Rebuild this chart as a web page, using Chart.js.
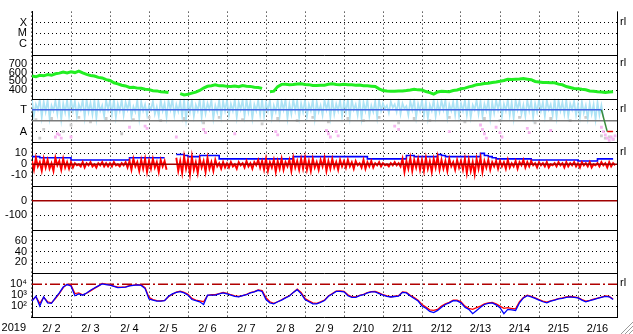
<!DOCTYPE html>
<html>
<head>
<meta charset="utf-8">
<script src="https://cdn.jsdelivr.net/npm/chart.js@4.4.1/dist/chart.umd.min.js"></script>
<style>
  html, body { margin: 0; padding: 0; background: #fff; }
  canvas { display: block; }
</style>
</head>
<body>
<canvas id="chart" width="633" height="334"></canvas>
<script>
// x runs in days from the left edge, one value every 0.1 day
const STEP = 0.1;
const yearLabel = '2019';
const dayLabels = ['2/ 2', '2/ 3', '2/ 4', '2/ 5', '2/ 6', '2/ 7', '2/ 8', '2/ 9',
  '2/10', '2/11', '2/12', '2/13', '2/14', '2/15', '2/16'];

// tick values / labels of each panel, top to bottom
const xmcTicks = [1, 2, 3];
const xmcLabels = ['C', 'M', 'X'];
const pressTicks = [400, 500, 600, 700];
const taTicks = [1, 3];
const taLabels = ['A', 'T'];
const fieldTicks = [-10, 0, 10];
const dstTicks = [-100, 0];
const aeTicks = [20, 40, 60];
const fluxTicks = [100, 1000, 10000];
const fluxLabels = ['10\u00b2', '10\u00b3', '10\u2074'];

// panel 2
const pressure = [
  561, 553, 570, 564, 578, 570, 587, 595, 607, 598,
  610, 601, 618, 597, 580, 568, 562, 546, 540, 520,
  510, 484, 472, 456, 448, 430, 432, 423, 421, 410,
  406, 393, 391, 380, 379, 372, null, null, 360, 345,
  352, 366, 377, 396, 424, 444, 451, 460, 449, 450,
  443, 441, 447, 439, 452, 445, 443, 434, 431, 420,
  null, 382, 388, 440, 466, 467, 463, 465, 471, 474,
  465, 463, 454, 453, 457, 457, 467, 474, 464, 463,
  467, 461, 461, 455, 459, 451, 449, 445, 441, 415,
  395, 389, 387, 387, 391, 391, 395, 401, 409, 403,
  401, 384, 371, 355, 379, 387, 385, 381, 396, 401,
  416, 423, 437, 447, 463, 467, 475, 479, 488, 493,
  501, 511, 525, 521, 526, 527, 532, 525, 519, 499,
  493, 487, 488, 485, 485, 469, 461, 441, 431, 419,
  417, 410, 405, 391, 387, 381, 379, 373, 379, 381
];

// panel 3
const cyanHi = [
  3.9, 3.5, 3.95, 3.75, 3.9, 3.4, 3.85, 3.95, 3.6, 3.9,
  3.95, 3.8, 3.5, 3.9, 3.95, 3.65, 3.9, 3.8, 3.4, 3.9,
  3.85, 3.95, 3.55, 3.9, 3.7, 3.9, 3.3, 3.9, 3.75, 3.5,
  3.4, 3.8, 3.3, 3.9, 3.6, 3.85, 3.95, 3.5, 3.8, 3.9,
  3.7, 3.9, 3.45, 3.95, 3.85, 3.6, 3.9, 3.4, 3.9, 3.8,
  3.9, 3.55, 3.95, 3.7, 3.9, 3.95, 3.75, 3.5, 3.9, 3.95,
  3.7, 3.9, 3.4, 3.9, 3.8, 3.95, 3.55, 3.95, 3.85, 3.6,
  3.9, 3.5, 3.9, 3.75, 3.4, 3.9, 3.8, 3.95, 3.55, 3.9,
  3.75, 3.9, 3.95, 3.5, 3.9, 3.7, 3.9, 3.4, 3.8, 3.9,
  3.6, 3.4, 3.75, 3.5, 3.9, 3.6, 3.35, 3.8, 3.9, 3.55,
  3.9, 3.7, 3.45, 3.9, 3.6, 3.85, 3.9, 3.5, 3.75, 3.9,
  3.6, 3.9, 3.75, 3.45, 3.9, 3.8, 3.55, 3.9, 3.7, 3.9,
  3.9, 3.55, 3.95, 3.7, 3.9, 3.85, 3.45, 3.9, 3.8, 3.6,
  3.9, 3.7, 3.9, 3.5, 3.95, 3.85, 3.7, 3.9, 3.55, 3.8,
  3.5, 3.75, 3.4, 3.6, 3.5, 3.7, 3.4, null, null, null
];
const cyanLo = [
  2.5, 3.0, 2.3, 2.8, 2.2, 2.9, 2.6, 2.1, 2.75, 2.45,
  2.9, 2.4, 3.0, 2.3, 2.8, 2.55, 2.2, 2.9, 2.4, 3.0,
  2.6, 2.3, 2.9, 2.5, 3.0, 2.35, 2.8, 2.2, 2.9, 2.5,
  3.0, 2.6, 2.4, 2.9, 2.3, 3.0, 2.5, 2.85, 2.4, 2.1,
  2.8, 2.4, 2.9, 2.3, 2.65, 3.0, 2.2, 2.75, 2.4, 2.9,
  2.5, 2.9, 2.3, 3.0, 2.4, 2.8, 2.2, 2.9, 2.55, 2.4,
  2.9, 2.3, 2.8, 2.4, 3.0, 2.2, 2.6, 2.9, 2.3, 2.8,
  2.4, 2.9, 2.2, 2.8, 2.5, 3.0, 2.3, 2.6, 2.9, 2.4,
  2.8, 2.3, 3.0, 2.5, 2.2, 2.9, 2.4, 2.8, 2.3, 2.9,
  3.1, 2.7, 3.2, 2.8, 2.6, 3.1, 2.5, 3.0, 2.3, 2.9,
  2.5, 2.2, 2.9, 2.4, 2.8, 3.0, 2.3, 2.9, 2.5, 2.4,
  2.9, 2.5, 2.3, 3.0, 2.6, 2.4, 2.9, 2.2, 2.7, 3.0,
  2.4, 2.9, 2.5, 2.2, 3.0, 2.6, 2.4, 2.9, 2.3, 2.8,
  2.9, 2.4, 3.0, 2.5, 2.3, 2.9, 2.6, 2.4, 3.0, 2.5,
  2.3, 2.7, 2.2, 2.6, 2.1, 2.5, 2.3, null, null, null
];
const grayDotX = [0.1, 0.2, 0.3, 0.5, 0.8, 1.0, 1.2, 1.5, 1.9, 2.3, 2.6, 3.0, 3.3, 3.9, 4.4, 4.8, 5.4, 5.9,
  6.3, 6.8, 7.2, 7.6, 8.1, 8.5, 8.9, 9.4, 9.8, 10.2, 10.7, 11.1, 11.6, 12.0, 12.5, 12.9, 13.3, 13.8,
  14.2, 14.6, 14.7, 14.8, 14.9];
const grayDotY = [2.1, 0.4, 1.2, 2.2, 1.0, 1.6, 2.3, 1.9, 2.2, 0.8, 2.1, 2.3, 2.0, 2.2, 1.8, 2.3, 2.1, 1.7,
  2.2, 2.0, 2.3, 1.9, 2.2, 2.0, 2.3, 1.8, 2.2, 2.0, 2.3, 1.9, 2.2, 2.0, 2.3, 1.8, 2.2, 2.0,
  2.3, 0.6, 0.4, 0.5, 0.3];
const pinkDotX = [0.6, 0.65, 0.7, 0.75, 1.0, 2.5, 2.9, 2.95, 3.7, 4.4, 4.45, 5.2, 6.25, 6.3, 7.55, 7.6, 7.65,
  7.8, 7.85, 9.3, 9.4, 10.7, 11.5, 11.55, 11.6, 11.65, 11.9, 12.0, 12.05, 12.7, 12.75, 13.3, 14.6,
  14.65, 14.7, 14.75, 14.8, 14.85, 14.9, 14.95];
const pinkDotY = [0.5, 0.8, 0.7, 0.4, 0.5, 1.4, 1.5, 1.3, 0.5, 1.2, 0.9, 0.8, 1.0, 0.7, 1.1, 0.8, 0.5,
  1.0, 0.6, 1.5, 1.2, 1.0, 1.6, 1.2, 0.8, 0.4, 1.4, 0.9, 0.5, 1.3, 0.9, 1.1, 1.4,
  1.0, 0.7, 0.4, 0.2, 0.5, 0.3, 0.6];
const trackX = [0, 14.6, 14.75, 14.9];
const trackY = [3, 3, 1, 1];
const trackColors = ['#4060e0', '#3a8a3a', '#e00000'];
const grayLevel = 2;

// panel 4: upper and lower swing of the red trace in each 0.1 day
const fieldRedHi = [
  3, 6, 2, 5, 4, 1, 6, 3, 5, 2,
  2, 1, 0, 2, 1, 2, 0, 1, 2, 1,
  1, 2, 0, 1, 2, 3, 5, 2, 4, 5,
  3, 5, 2, 4, 3, null, null, 6, 3, 7,
  4, 7, 2, 5, 3, 6, 2, 4, 1, 2,
  1, 2, 0, 2, 1, 3, 1, 2, 4, 3,
  5, 2, 4, 3, 5, 2, 4, 6, 3, 5,
  6, 3, 5, 2, 4, 6, 3, 5, 2, 4,
  3, 4, 2, 3, 1, 4, 2, 3, 1, 2,
  1, 0, 1, 2, 1, 5, 3, 6, 4, 5,
  4, 6, 3, 5, 7, 4, 3, 5, 2, 4,
  3, 5, 4, 2, 5, 6, 3, 4, 2, 3,
  3, 2, 4, 1, 3, 2, 4, 2, 3, 1,
  2, 1, 2, 0, 1, 2, 1, 2, 1, 2,
  1, 2, 1, 2, 0, 1, 2, 1, 2, 1
];
const fieldRedLo = [
  -5, -2, -6, -3, -4, -6, -1, -5, -3, -4,
  -3, -1, -2, -3, -1, -2, -3, -1, -2, -2,
  -2, -1, -2, -1, -3, -5, -2, -6, -4, -7,
  -4, -3, -7, -2, -5, null, null, -6, -8, -4,
  -9, -5, -8, -3, -7, -4, -6, -2, -4, -3,
  -3, -2, -4, -1, -3, -2, -4, -1, -3, -5,
  -6, -3, -7, -4, -5, -2, -6, -3, -5, -4,
  -5, -6, -3, -5, -2, -6, -4, -3, -5, -2,
  -3, -2, -4, -1, -3, -4, -2, -3, -1, -2,
  -1, -2, -1, -1, -2, -7, -4, -6, -3, -5,
  -6, -4, -7, -3, -5, -4, -6, -2, -5, -3,
  -5, -8, -6, -9, -4, -7, -3, -5, -2, -4,
  -2, -4, -3, -2, -4, -1, -3, -2, -1, -3,
  -1, -2, -3, -1, -2, -1, -3, -2, -1, -2,
  -3, -1, -2, -3, -1, -2, -1, -3, -2, -1
];
const fieldBlue = [
  7, 7, 6, 6, 6, 6, 6, 6, 6, 6,
  4, 4, 4, 4, 4, 4, 4, 4, 4, 4,
  4, 4, 4, 4, 4, 6, 6, 6, 6, 6,
  6, 6, 6, 6, 6, null, null, 9, 9, 8,
  7, 7, 7, 8, 8, 8, 8, 8, 5, 5,
  5, 5, 5, 5, 5, 5, 5, 5, 5, 5,
  5, 5, 5, 5, 5, 5, 5, 7, 7, 7,
  7, 7, 7, 7, 7, 7, 7, 7, 7, 7,
  7, 7, 7, 7, 7, 7, 5, 5, 5, 5,
  5, 5, 5, 5, 5, 5, 8, 8, 7, 7,
  7, 7, 7, 7, 9, 8, 7, 7, 7, 7,
  7, 7, 7, 7, 7, 10, 8, 7, 6, 5,
  5, 5, 5, 5, 5, 5, 5, 5, 4, 4,
  4, 4, 4, 4, 4, 4, 4, 4, 4, 4,
  3, 3, 3, 3, 3, 5, 5, 5, 5, 5
];
const zeroX = [0, 15];

// panel 7
const fluxLimit = 10000;
const fluxBlue = [
  290, 790, 100, 710, 200, 180, 560, 1600, 5600, 9500,
  7100, 890, 1300, 1000, 1600, 2800, 4500, 7100, 11000, 9500,
  8300, 6300, 5000, 5200, 5600, 7100, 7900, 8700, 7900, 4000,
  450, 350, 290, 290, 320, 790, 1300, 1800, 2100, 1600,
  1000, 400, 320, 250, 140, 1000, 1000, 1000, 1300, 1600,
  1300, 1000, 790, 710, 890, 1100, 1600, 2000, 2800, 2200,
  400, 200, 160, 250, 350, 560, 830, 1800, 3200, 1400,
  400, 250, 160, 160, 220, 320, 790, 1300, 2200, 2200,
  2000, 890, 630, 630, 890, 1100, 1600, 2000, 2000, 1400,
  1000, 790, 680, 760, 830, 1800, 1600, 830, 500, 290,
  100, 63, 32, 25, 40, 79, 140, 200, 320, 300,
  200, 79, 50, 20, 40, 79, 140, 180, 200, 130,
  71, 20, 50, 45, 40, 200, 560, 890, 710, 500,
  350, 250, 200, 280, 350, 450, 500, 630, 710, 630,
  560, 350, 250, 320, 400, 500, 630, 790, 710, 400
];
const fluxRed = [
  320, 700, 180, 630, 250, 200, 500, 1400, 5000, 10000,
  8300, 1400, 1600, 1100, 1500, 2500, 4200, 6800, 12000, 10000,
  8700, 6800, 5400, 5400, 5800, 7400, 8300, 9100, 8700, 5000,
  630, 400, 320, 300, 330, 710, 1200, 1900, 2300, 1800,
  1200, 500, 360, 300, 250, 900, 1100, 1100, 1400, 1800,
  1500, 1100, 850, 760, 900, 1200, 1700, 2100, 3000, 2600,
  600, 250, 180, 250, 380, 600, 890, 1800, 3600, 1800,
  500, 300, 200, 180, 250, 350, 850, 1400, 2400, 2500,
  2200, 1100, 700, 680, 950, 1200, 1700, 2100, 2200, 1600,
  1100, 850, 720, 800, 900, 2000, 1800, 1000, 600, 350,
  140, 80, 45, 40, 50, 100, 160, 220, 350, 350,
  250, 100, 63, 50, 71, 100, 160, 200, 220, 160,
  100, 63, 71, 60, 56, 250, 600, 1000, 800, 560,
  400, 280, 230, 300, 380, 480, 560, 700, 760, 680,
  600, 400, 280, 340, 430, 530, 680, 850, 760, 450
];

const FONT = '"Liberation Sans", Arial, sans-serif';
Chart.defaults.font.family = FONT;
Chart.defaults.font.size = 11;
Chart.defaults.color = '#000';

function series(values) {
  return values.map((v, i) => ({ x: +(i * STEP).toFixed(2), y: v }));
}
function pairs(xs, ys) {
  return xs.map((x, i) => ({ x: x, y: ys[i] }));
}
// interleave the two swings of a noisy trace: hi at the step, lo half a step later
function zigzag(hi, lo) {
  return hi.flatMap((h, i) => [
    { x: +(i * STEP).toFixed(2), y: h },
    { x: +(i * STEP + STEP / 2).toFixed(3), y: lo[i] }
  ]);
}

function yPanel(weight, min, max, ticks, labels, extra) {
  return Object.assign({
    type: 'linear',
    position: 'left',
    stack: 'panels',
    stackWeight: 1,
    weight: weight,
    min: min,
    max: max,
    afterBuildTicks: s => { s.ticks = ticks.map(v => ({ value: v })); },
    afterFit: s => { s.width = 32; },
    grid: { color: '#000', lineWidth: 1, drawTicks: false },
    border: { display: true, color: '#000', width: 1, dash: [1, 3] },
    ticks: {
      autoSkip: false,
      padding: 5,
      callback: (v, i) => labels ? labels[i] : String(v)
    }
  }, extra || {});
}

const lineBase = { pointRadius: 0, tension: 0, spanGaps: false, fill: false };

const frame = {
  id: 'frame',
  afterDraw(chart) {
    const { ctx, chartArea: a, scales } = chart;
    ctx.save();
    ctx.strokeStyle = '#000';
    ctx.lineWidth = 1;
    ctx.beginPath();
    ['yA', 'yB', 'yC', 'yD', 'yE', 'yF', 'yG'].forEach(id => {
      const s = scales[id];
      if (s.top > a.top + 1) {
        const y = Math.round(s.top) + 0.5;
        ctx.moveTo(a.left, y);
        ctx.lineTo(a.right, y);
      }
    });
    const xr = Math.round(a.right) + 0.5;
    ctx.moveTo(xr, a.top);
    ctx.lineTo(xr, a.bottom + 1);
    ctx.stroke();

    ctx.fillStyle = '#000';
    ctx.font = '11px ' + FONT;
    ctx.textAlign = 'left';
    ctx.textBaseline = 'middle';
    ['yA', 'yB', 'yC', 'yD', 'yG'].forEach(id => {
      const s = scales[id];
      const t = s.ticks[s.ticks.length - 1];
      ctx.fillText('rl', a.right + 3, s.getPixelForValue(t.value) - 1);
    });
    ctx.textAlign = 'right';
    ctx.textBaseline = 'top';
    ctx.fillText(yearLabel, a.left - 6, a.bottom + 5);

    // window resize grip
    ctx.strokeStyle = '#9a9a9a';
    ctx.beginPath();
    [4, 8, 12].forEach(k => {
      ctx.moveTo(633 - k, 334);
      ctx.lineTo(633, 334 - k);
    });
    ctx.stroke();
    ctx.restore();
  }
};

new Chart(document.getElementById('chart'), {
  type: 'line',
  data: {
    datasets: [
      // panel 2
      Object.assign({ data: series(pressure), yAxisID: 'yB', borderColor: '#22ee22', borderWidth: 3, order: 5 }, lineBase),
      // panel 3
      Object.assign({
        data: pairs(trackX, trackY), yAxisID: 'yC', borderWidth: 1.5, order: 1,
        segment: { borderColor: c => trackColors[c.p0DataIndex] }
      }, lineBase),
      Object.assign({ data: pairs(zeroX, [grayLevel, grayLevel]), yAxisID: 'yC', borderColor: '#7a7a7a', borderWidth: 1.5, order: 2 }, lineBase),
      Object.assign({ data: zigzag(cyanHi, cyanLo), yAxisID: 'yC', borderColor: '#ace3f5', borderWidth: 1.7, order: 4 }, lineBase),
      Object.assign({ data: pairs(grayDotX, grayDotY), yAxisID: 'yC', showLine: false, pointStyle: 'rect',
        pointBorderWidth: 0, pointBackgroundColor: '#cccccc', order: 6 }, lineBase, { pointRadius: 2 }),
      Object.assign({ data: pairs(pinkDotX, pinkDotY), yAxisID: 'yC', showLine: false, pointStyle: 'rect',
        pointBorderWidth: 0, pointBackgroundColor: '#f6b6f0', order: 5 }, lineBase, { pointRadius: 2 }),
      // panel 4
      Object.assign({ data: pairs(zeroX, [0, 0]), yAxisID: 'yD', borderColor: '#a00000', borderWidth: 1.5, order: 1 }, lineBase),
      Object.assign({ data: zigzag(fieldRedHi, fieldRedLo), yAxisID: 'yD', borderColor: '#ff0000', borderWidth: 1.9, order: 2 }, lineBase),
      Object.assign({ data: series(fieldBlue), yAxisID: 'yD', borderColor: '#0000ff', borderWidth: 1.6, stepped: true, order: 3 }, lineBase),
      // panel 5
      Object.assign({ data: pairs(zeroX, [0, 0]), yAxisID: 'yE', borderColor: '#a00000', borderWidth: 1.5, order: 1 }, lineBase),
      // panel 7
      Object.assign({ data: pairs(zeroX, [fluxLimit, fluxLimit]), yAxisID: 'yG', borderColor: '#b00000', borderWidth: 1.5,
        borderDash: [10, 3, 2, 3], order: 3 }, lineBase),
      Object.assign({ data: series(fluxBlue), yAxisID: 'yG', borderColor: '#0000ff', borderWidth: 1.3, order: 1 }, lineBase),
      Object.assign({ data: series(fluxRed), yAxisID: 'yG', borderColor: '#ff0000', borderWidth: 1.3, order: 2 }, lineBase)
    ]
  },
  options: {
    responsive: false,
    animation: false,
    events: [],
    layout: { padding: { top: 2, right: 16, left: 0, bottom: 0 } },
    plugins: { legend: { display: false }, tooltip: { enabled: false } },
    scales: {
      x: {
        type: 'linear',
        min: 0,
        max: 15,
        afterBuildTicks: s => {
          const t = [];
          for (let i = 0; i <= 30; i++) t.push({ value: i / 2 });
          s.ticks = t;
        },
        afterFit: s => { s.height = 17; },
        grid: {
          color: c => (c.tick && Number.isInteger(c.tick.value)) ? '#000' : 'rgba(0,0,0,0)',
          drawTicks: false
        },
        border: { display: true, color: '#000', width: 1, dash: [1, 3] },
        ticks: {
          autoSkip: false,
          maxRotation: 0,
          padding: 5,
          callback: v => Number.isInteger(v) ? '' : dayLabels[Math.floor(v)]
        }
      },
      yA: yPanel(7, 0, 4, xmcTicks, xmcLabels),
      yB: yPanel(6, 300, 800, pressTicks, null),
      yC: yPanel(5, 0, 4, taTicks, taLabels),
      yD: yPanel(4, -20, 20, fieldTicks, null),
      yE: yPanel(3, -200, 100, dstTicks, null),
      yF: yPanel(2, 0, 80, aeTicks, null),
      yG: yPanel(1, 10, 100000, fluxTicks, fluxLabels, {
        type: 'logarithmic',
        grid: {
          color: c => (c.tick && c.tick.value === fluxLimit) ? 'rgba(0,0,0,0)' : '#000',
          lineWidth: 1,
          drawTicks: false
        }
      })
    }
  },
  plugins: [frame]
});
</script>
</body>
</html>
